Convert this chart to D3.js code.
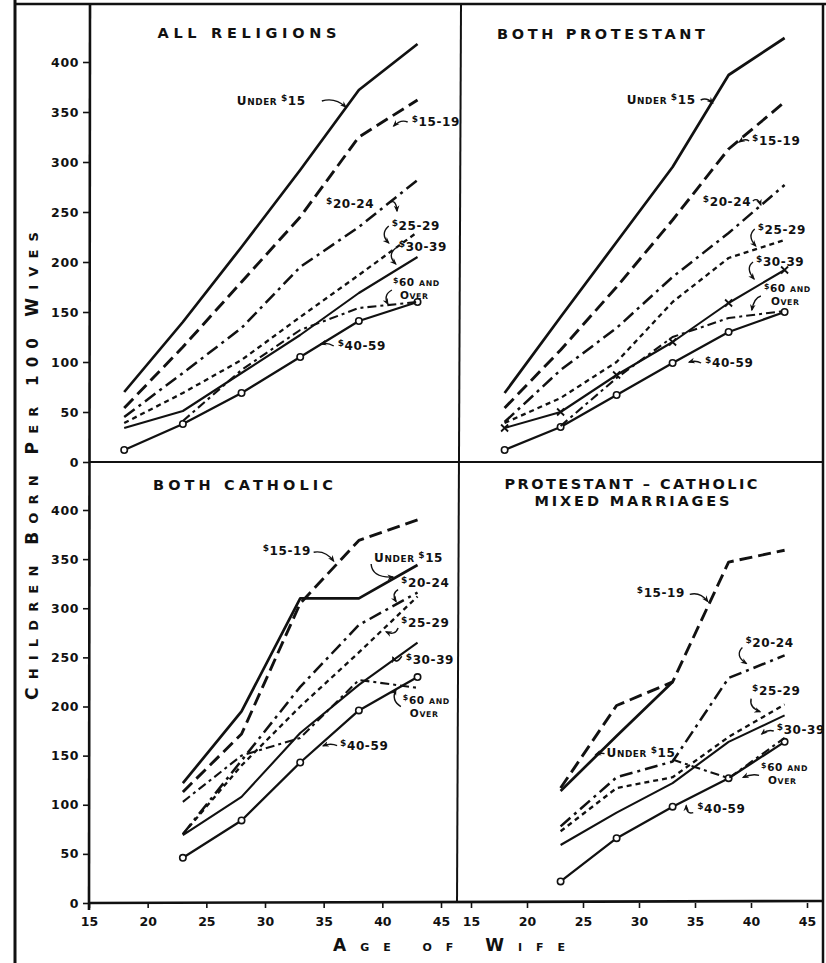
<!DOCTYPE html>
<html><head><meta charset="utf-8">
<script src="https://cdn.jsdelivr.net/npm/d3@7/dist/d3.min.js"></script>
<style>
body{margin:0;background:#fff;}
svg{display:block;background:#fff;}
text{font-family:"DejaVu Sans",sans-serif;font-weight:bold;fill:#111;}
</style></head><body>
<svg id="c" width="826" height="963"></svg>
<script>
// ---------------- DATA ----------------
const agesTop = [18, 23, 28, 33, 38, 43];
const agesBottom = [23, 28, 33, 38, 43];
const incomeGroups = ["Under $15", "$15-19", "$20-24", "$25-29", "$30-39", "$40-59", "$60 and over"];
const yTickValues = [0, 50, 100, 150, 200, 250, 300, 350, 400];
const xTickValues = [15, 20, 25, 30, 35, 40, 45];

// All religions (children born per 100 wives)
const allUnder15 = [70, 140, 215, 292, 372, 418];
const all15_19   = [54, 115, 180, 245, 325, 362];
const all20_24   = [45, 89, 134, 195, 235, 282];
const all25_29   = [39, 69, 102, 145, 187, 230];
const all30_39   = [34, 51, 89, 127, 169, 205];
const all40_59   = [12, 38, 69, 105, 141, 160];
const all60plus  = [null, 41, 92, 132, 154, 160];

// Both Protestant
const protUnder15 = [69, 145, 220, 295, 387, 424];
const prot15_19   = [54, 112, 175, 242, 313, 360];
const prot20_24   = [40, 92, 134, 185, 229, 277];
const prot25_29   = [39, 64, 100, 160, 204, 222];
const prot30_39   = [34, 50, 87, 120, 159, 192];
const prot40_59   = [12, 35, 67, 99, 130, 150];
const prot60plus  = [null, 36, 84, 125, 144, 151];

// Both Catholic
const cathUnder15 = [122, 195, 310, 310, 344];
const cath15_19   = [113, 172, 305, 369, 390];
const cath20_24   = [70, 145, 220, 283, 316];
const cath25_29   = [70, 140, 200, 255, 312];
const cath30_39   = [69, 108, 173, 222, 265];
const cath40_59   = [46, 84, 143, 196, 230];
const cath60plus  = [103, 150, 168, 227, 219];

// Protestant - Catholic mixed marriages
const mixUnder15 = [114, 170, 225, null, null];
const mix15_19   = [117, 201, 225, 347, 359];
const mix20_24   = [78, 128, 144, 229, 252];
const mix25_29   = [73, 117, 128, 169, 202];
const mix30_39   = [59, 92, 122, 164, 191];
const mix40_59   = [22, 66, 98, 127, 164];
const mix60plus  = [null, null, 146, 127, 168];

// ---------------- LAYOUT ----------------
const svg = d3.select("#c");
const xLeft  = d3.scaleLinear().domain([15, 45]).range([89, 441]);
const xRight = d3.scaleLinear().domain([15, 45]).range([471, 807]);
const yTop   = d3.scaleLinear().domain([0, 400]).range([462, 62]);
const yBot   = d3.scaleLinear().domain([0, 400]).range([903, 510]);

const styles = {
  "Under $15":    {w: 2.7, dash: null},
  "$15-19":       {w: 2.9, dash: "13,6"},
  "$20-24":       {w: 2.5, dash: "13,5,3,5"},
  "$25-29":       {w: 2.3, dash: "5,4"},
  "$30-39":       {w: 2.1, dash: null},
  "$40-59":       {w: 2.3, dash: null},
  "$60 and over": {w: 2.1, dash: "9,4,3,4"}
};

const defs = svg.append("defs");
defs.append("marker").attr("id", "ah").attr("viewBox", "0 0 10 10")
  .attr("refX", 8).attr("refY", 5).attr("markerWidth", 5).attr("markerHeight", 5)
  .attr("orient", "auto")
  .append("path").attr("d", "M0,1 L10,5 L0,9 L3,5 z").attr("fill", "#111");

// frame
const frame = svg.append("g").attr("stroke", "#111").attr("fill", "none");
frame.append("line").attr("x1", 15).attr("y1", 0).attr("x2", 15).attr("y2", 963).attr("stroke-width", 3);
frame.append("line").attr("x1", 14).attr("y1", 4).attr("x2", 826).attr("y2", 4).attr("stroke-width", 2.5);
frame.append("line").attr("x1", 823).attr("y1", 3).attr("x2", 823).attr("y2", 963).attr("stroke-width", 2.5);
frame.append("line").attr("x1", 90).attr("y1", 4).attr("x2", 89).attr("y2", 910).attr("stroke-width", 2.6);
frame.append("line").attr("x1", 461).attr("y1", 4).attr("x2", 457).attr("y2", 903).attr("stroke-width", 2);
frame.append("line").attr("x1", 89).attr("y1", yTop(0)).attr("x2", 823).attr("y2", yTop(0)).attr("stroke-width", 2);
frame.append("line").attr("x1", 89).attr("y1", yBot(0)).attr("x2", 823).attr("y2", yBot(0) - 2).attr("stroke-width", 2.6);

// y axes
function yAxis(scale) {
  const g = svg.append("g").attr("transform", "translate(89,0)")
    .call(d3.axisLeft(scale).tickValues(yTickValues).tickSize(6).tickPadding(4).tickFormat(d3.format("d")));
  g.select(".domain").remove();
  g.selectAll(".tick line").attr("stroke", "#111").attr("stroke-width", 1.6);
  g.selectAll(".tick text").style("font-size", "12.5px").style("font-family", "DejaVu Sans").style("font-weight", "bold")
    .attr("fill", "#111").attr("letter-spacing", "0.6");
}
yAxis(yTop);
yAxis(yBot);

// x axes
function xAxis(scale) {
  const g = svg.append("g").attr("transform", `translate(0,${yBot(0)})`)
    .call(d3.axisBottom(scale).tickValues(xTickValues).tickSize(5).tickPadding(9).tickFormat(d3.format("d")));
  g.select(".domain").remove();
  g.selectAll(".tick line").attr("stroke", "#111").attr("stroke-width", 1.6);
  g.selectAll(".tick text").style("font-size", "12.5px").style("font-family", "DejaVu Sans").style("font-weight", "bold")
    .attr("fill", "#111");
}
xAxis(xLeft);
xAxis(xRight);

// axis titles
const yt = svg.append("text").attr("transform", "translate(38,466) rotate(-90)")
  .attr("text-anchor", "middle").attr("textLength", 468).attr("lengthAdjust", "spacing");
[["C", 17], ["HILDREN ", 13], ["B", 17], ["ORN ", 13], ["P", 17], ["ER ", 13], ["100 ", 15], ["W", 17], ["IVES", 13]]
  .forEach(([s, f]) => yt.append("tspan").text(s).style("font-size", f + "px"));

const xt = svg.append("text").attr("x", 449).attr("y", 951)
  .attr("text-anchor", "middle").attr("textLength", 232).attr("lengthAdjust", "spacing");
[["A", 17], ["GE ", 11], ["OF ", 11], ["W", 17], ["IFE", 11]]
  .forEach(([s, f]) => xt.append("tspan").text(s).style("font-size", f + "px"));

// label helper
function tokens(str) {
  const out = [];
  str.split(" ").forEach((word, wi, arr) => {
    const sp = wi < arr.length - 1 ? " " : "";
    if (word.startsWith("$")) { out.push(["$", "d"]); out.push([word.slice(1) + sp, "B"]); }
    else if (word === "AND") out.push([word + sp, "s"]);
    else if (/^[A-Z]+$/.test(word)) { out.push([word[0], "B"]); out.push([word.slice(1) + sp, "s"]); }
    else out.push([word + sp, "B"]);
  });
  return out;
}
function richText(g, x, y, str, size) {
  const t = g.append("text").attr("x", x).attr("y", y).style("font-size", size + "px").attr("letter-spacing", "0.6");
  let raised = false;
  tokens(str).forEach(([s, k]) => {
    const ts = t.append("tspan").text(s);
    if (k === "d") {
      ts.style("font-size", (size * 0.75) + "px");
      if (!raised) { ts.attr("dy", -size * 0.33); raised = true; }
    } else {
      if (raised) { ts.attr("dy", size * 0.33); raised = false; }
      if (k === "s") ts.style("font-size", (size * 0.74) + "px");
    }
  });
  return t;
}

// ---------------- PANELS ----------------
const panels = [
  {
    titles: [["ALL RELIGIONS", 247, 38, 179]],
    ages: agesTop, x: xLeft, y: yTop,
    series: [allUnder15, all15_19, all20_24, all25_29, all30_39, all40_59, all60plus],
    crossOn: false,
    notes: [
      {t: ["UNDER $15"], a: 27.6, v: 357, arr: [[85,-4],[98,-8],[109,2]]},
      {t: ["$15-19"], a: 42.5, v: 336, arr: [[-4,-4],[-11,-7],[-18,0]]},
      {t: ["$20-24"], a: 35.2, v: 254, arr: [[63,-5],[70,-10],[71,3]]},
      {t: ["$25-29"], a: 40.8, v: 232, arr: [[-3,-4],[-12,4],[-3,13]]},
      {t: ["$30-39"], a: 41.4, v: 211, arr: [[-3,-3],[-12,4],[-3,13]]},
      {t: ["$60 AND", "OVER"], a: 40.9, v: 176, arr: [[-1,4],[-10,9],[-5,18]]},
      {t: ["$40-59"], a: 36.2, v: 112, arr: [[-4,-4],[-10,-8],[-17,-6]]}
    ]
  },
  {
    titles: [["BOTH PROTESTANT", 601, 39, 208]],
    ages: agesTop, x: xRight, y: yTop,
    series: [protUnder15, prot15_19, prot20_24, prot25_29, prot30_39, prot40_59, prot60plus],
    crossOn: true,
    notes: [
      {t: ["UNDER $15"], a: 28.9, v: 358, arr: [[74,-4],[80,-7],[86,-1]]},
      {t: ["$15-19"], a: 40.1, v: 317, arr: [[-3,-4],[-7,-7],[-13,-3]]},
      {t: ["$20-24"], a: 35.7, v: 256, arr: [[50,-5],[55,-9],[58,-1]]},
      {t: ["$25-29"], a: 40.6, v: 228, arr: [[-3,-5],[-11,2],[-2,12]]},
      {t: ["$30-39"], a: 40.45, v: 196, arr: [[-3,-4],[-11,2],[-2,13]]},
      {t: ["$60 AND", "OVER"], a: 41.15, v: 170, arr: [[-3,4],[-10,6],[-12,18]]},
      {t: ["$40-59"], a: 35.9, v: 95, arr: [[-4,-4],[-9,-7],[-16,-5]]}
    ]
  },
  {
    titles: [["BOTH CATHOLIC", 243, 490, 180]],
    ages: agesBottom, x: xLeft, y: yBot,
    series: [cathUnder15, cath15_19, cath20_24, cath25_29, cath30_39, cath40_59, cath60plus],
    crossOn: false,
    notes: [
      {t: ["$15-19"], a: 29.8, v: 354, arr: [[51,-3],[63,-5],[71,6]]},
      {t: ["UNDER $15"], a: 39.3, v: 347, arr: [[-3,2],[-2,16],[19,15]]},
      {t: ["$20-24"], a: 41.6, v: 322, arr: [[-3,3],[-10,7],[-5,15]]},
      {t: ["$25-29"], a: 41.6, v: 281, arr: [[-3,1],[-6,9],[-15,5]]},
      {t: ["$30-39"], a: 42.0, v: 243, arr: [[-4,-8],[-10,1],[-13,-7]]},
      {t: ["$60 AND", "OVER"], a: 41.75, v: 203, arr: [[-2,3],[-12,-3],[-7,-14]]},
      {t: ["$40-59"], a: 36.4, v: 156, arr: [[-3,-4],[-9,-7],[-17,-4]]}
    ]
  },
  {
    titles: [["PROTESTANT \u2013 CATHOLIC", 631, 489, 253], ["MIXED MARRIAGES", 632, 506, 195]],
    ages: agesBottom, x: xRight, y: yBot,
    series: [mixUnder15, mix15_19, mix20_24, mix25_29, mix30_39, mix40_59, mix60plus],
    crossOn: false,
    notes: [
      {t: ["$15-19"], a: 29.8, v: 311, arr: [[53,-3],[63,-6],[71,4]]},
      {t: ["$20-24"], a: 39.5, v: 261, arr: [[-3,1],[-11,9],[1,17]]},
      {t: ["$25-29"], a: 40.1, v: 212, arr: [[-1,4],[-3,13],[8,17]]},
      {t: ["$30-39"], a: 42.3, v: 172, arr: [[-3,-3],[-9,-5],[-15,0]]},
      {t: ["$60 AND", "OVER"], a: 40.9, v: 134, arr: [[-2,4],[-9,2],[-18,6]]},
      {t: ["UNDER $15"], a: 27.1, v: 149, arr: [[-2,-3],[-6,-4],[-11,-2]]},
      {t: ["$40-59"], a: 35.2, v: 92, arr: [[-4,0],[-11,2],[-11,-7]]}
    ]
  }
];

panels.forEach(p => {
  const g = svg.append("g");
  p.titles.forEach(([s, cx, by, len]) => {
    g.append("text").attr("x", cx).attr("y", by).attr("text-anchor", "middle")
      .attr("textLength", len).attr("lengthAdjust", "spacing")
      .style("font-size", "14.5px").text(s);
  });
  const line = d3.line().defined(d => d.v != null).x(d => p.x(d.a)).y(d => p.y(d.v));
  p.series.forEach((vals, i) => {
    const name = incomeGroups[i];
    const st = styles[name];
    const pts = vals.map((v, j) => ({a: p.ages[j], v}));
    g.append("path").datum(pts).attr("d", line).attr("fill", "none").attr("stroke", "#111")
      .attr("stroke-width", st.w).attr("stroke-dasharray", st.dash).attr("stroke-linejoin", "round");
    if (name === "$40-59") {
      g.selectAll(null).data(pts.filter(d => d.v != null)).join("circle")
        .attr("cx", d => p.x(d.a)).attr("cy", d => p.y(d.v)).attr("r", 3.2)
        .attr("fill", "#fff").attr("stroke", "#111").attr("stroke-width", 1.6);
    }
    if (name === "$30-39" && p.crossOn) {
      g.selectAll(null).data(pts.filter(d => d.v != null)).join("path")
        .attr("transform", d => `translate(${p.x(d.a)},${p.y(d.v)})`)
        .attr("d", "M-3.5,-3.5L3.5,3.5M-3.5,3.5L3.5,-3.5").attr("stroke", "#111").attr("stroke-width", 1.8);
    }
  });
  p.notes.forEach(n => {
    const x0 = p.x(n.a), y0 = p.y(n.v);
    const two = n.t.length > 1;
    const fs = two ? 10.5 : 12;
    n.t.forEach((s, k) => richText(g, x0 + (k ? 7 : 0), y0 + k * 13, s, fs));
    const [s0, c, e] = n.arr;
    g.append("path").attr("d", `M${x0 + s0[0]},${y0 + s0[1]} Q${x0 + c[0]},${y0 + c[1]} ${x0 + e[0]},${y0 + e[1]}`)
      .attr("fill", "none").attr("stroke", "#111").attr("stroke-width", 1.4).attr("marker-end", "url(#ah)");
  });
});
</script>
</body></html>
